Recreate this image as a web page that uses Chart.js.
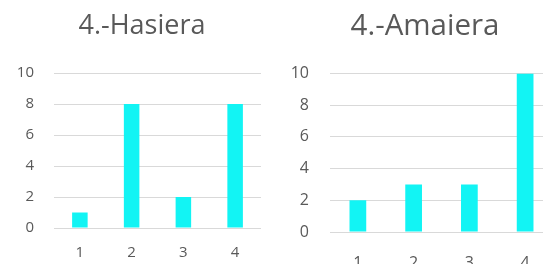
<!DOCTYPE html>
<html>
<head>
<meta charset="utf-8">
<script src="https://cdn.jsdelivr.net/npm/chart.js@4"></script>
<style>
	html, body { margin: 0; padding: 0; background: #fff; overflow: hidden; }
	#wrap { position: relative; width: 543px; height: 264px; overflow: hidden; }
	canvas { position: absolute; top: 0; }
	#left { left: 0; }
	#right { left: 271px; }
</style>
</head>
<body>
<div id="wrap">
	<canvas id="left" width="272" height="264"></canvas>
	<canvas id="right" width="290" height="264"></canvas>
</div>
<script>
const categories = ["1", "2", "3", "4"];
const hasieraValues = [1, 8, 2, 8];
const amaieraValues = [2, 3, 3, 10];
const yMin = 0;
const yMax = 10;
const yStep = 2;

const textColor = "#595959";
const gridColor = "#d9d9d9";
const barColor = "#12f4f4";

function makeChart(id, title, values, s) {
	return new Chart(id, {
		type: "bar",
		data: {
			labels: categories,
			datasets: [{
				data: values,
				backgroundColor: barColor,
				barPercentage: 0.3,
				categoryPercentage: 1
			}]
		},
		options: {
			responsive: false,
			animation: false,
			layout: { padding: { left: 0, right: s.padR, top: 0, bottom: 0 } },
			plugins: {
				legend: { display: false },
				tooltip: { enabled: false },
				title: {
					display: true,
					text: title,
					color: textColor,
					font: { family: "Open Sans", size: s.titleSize, weight: "normal", lineHeight: 1.2 },
					padding: { top: s.titleTop, bottom: s.titleBottom }
				}
			},
			scales: {
				x: {
					grid: { display: false },
					border: { display: false },
					ticks: { color: textColor, font: { family: "Open Sans", size: s.tickSize }, padding: s.xPad },
					afterFit: function(scale) { scale.height = s.xHeight; }
				},
				y: {
					min: yMin,
					max: yMax,
					grid: { color: gridColor, drawTicks: false },
					border: { display: false },
					ticks: { stepSize: yStep, color: textColor, font: { family: "Open Sans", size: s.tickSize }, padding: s.yPad },
					afterFit: function(scale) { scale.width = s.yWidth; }
				}
			}
		},
		plugins: [{
			// the title sits over the whole chart, not over the plot only
			id: "titleCenter",
			afterLayout: function(chart) {
				chart.titleBlock.left = s.titleX - 150;
				chart.titleBlock.right = s.titleX + 150;
			}
		}]
	});
}

makeChart("left", "4.-Hasiera", hasieraValues, {
	padR: 11, yWidth: 54, yPad: 20, xHeight: 36, xPad: 8,
	titleX: 142, titleSize: 27, titleTop: 10, titleBottom: 30.6, tickSize: 15
});

makeChart("right", "4.-Amaiera", amaieraValues, {
	padR: 8, yWidth: 59, yPad: 21, xHeight: 32, xPad: 14,
	titleX: 154, titleSize: 29.5, titleTop: 9, titleBottom: 29, tickSize: 16
});
</script>
</body>
</html>
